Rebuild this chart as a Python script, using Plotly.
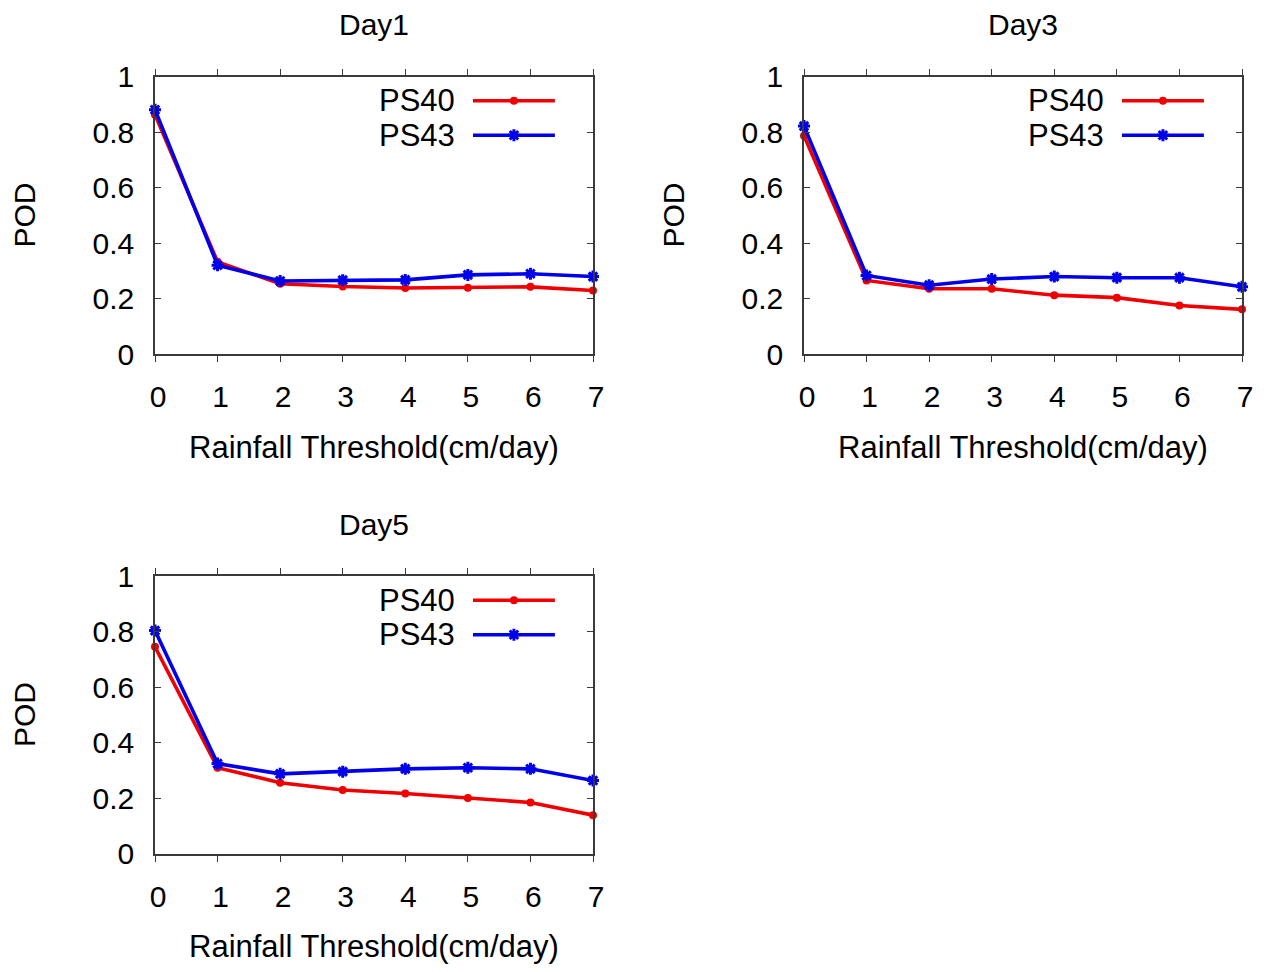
import plotly.graph_objects as go

# Rainfall thresholds (cm/day)
thresholds = [0, 1, 2, 3, 4, 5, 6, 7]

# Probability of detection for each forecast lead day
day1_ps40 = [0.863, 0.333, 0.254, 0.244, 0.239, 0.240, 0.243, 0.230]
day1_ps43 = [0.881, 0.321, 0.264, 0.267, 0.268, 0.286, 0.290, 0.280]
day3_ps40 = [0.787, 0.266, 0.236, 0.236, 0.213, 0.204, 0.176, 0.162]
day3_ps43 = [0.822, 0.284, 0.249, 0.271, 0.280, 0.276, 0.276, 0.243]
day5_ps40 = [0.746, 0.310, 0.256, 0.230, 0.217, 0.201, 0.185, 0.139]
day5_ps43 = [0.804, 0.325, 0.288, 0.296, 0.306, 0.310, 0.306, 0.264]

panel_titles = ["Day1", "Day3", "Day5"]
series_names = ["PS40", "PS43"]
y_ticks = [0, 0.2, 0.4, 0.6, 0.8, 1]

W, H = 1268, 972
FONT = "Liberation Sans, Arial, sans-serif"
RED = "rgb(240,0,0)"
BLUE = "rgb(0,0,235)"
AXIS = "#3a3a3a"

# pixel boxes of the three panels: (left, right, top, bottom)
boxes = [(155, 593, 76.7, 354.3), (804, 1242, 76.7, 354.3), (155, 593, 576.2, 853.8)]

panels = [(day1_ps40, day1_ps43), (day3_ps40, day3_ps43), (day5_ps40, day5_ps43)]
styles = [
    dict(color=RED, symbol="circle", size=5),
    dict(color=BLUE, symbol="asterisk-open", size=10),
]

fig = go.Figure()
annotations = []
shapes = []

for i, ((ps40, ps43), title, (l, r, t, b)) in enumerate(zip(panels, panel_titles, boxes)):
    n = "" if i == 0 else str(i + 1)
    xa, ya = "x" + n, "y" + n
    xdom = [l / W, r / W]
    ydom = [1 - b / H, 1 - t / H]

    for vals, name, st in zip((ps40, ps43), series_names, styles):
        fig.add_trace(go.Scatter(
            x=thresholds, y=vals, name=name, mode="lines+markers",
            xaxis=xa, yaxis=ya, showlegend=False, cliponaxis=False,
            line=dict(color=st["color"], width=3.6),
            marker=dict(symbol=st["symbol"], size=st["size"], color=st["color"],
                        line=dict(color=st["color"], width=3)),
        ))

    common = dict(showgrid=False, zeroline=False, showline=True, linecolor=AXIS,
                  linewidth=1.5, mirror="ticks", tickcolor=AXIS, ticklen=6, tickwidth=1.2,
                  automargin=False,
                  tickfont=dict(family=FONT, size=30, color="black"))
    fig.update_layout(**{
        ("xaxis" + n): dict(domain=xdom, anchor=ya, range=[0, 7], tickvals=thresholds,
                            ticks="outside", ticklabelstandoff=9, ticklabelshift=3,
                            **common),
        ("yaxis" + n): dict(domain=ydom, anchor=xa, range=[0, 1], tickvals=y_ticks,
                            ticks="inside", ticklabelstandoff=13, **common),
    })

    cx = (l + r) / 2
    annotations += [
        dict(text=title, x=cx / W, y=1 - (t - 52) / H, xref="paper", yref="paper",
             showarrow=False, xanchor="center", yanchor="middle",
             font=dict(family=FONT, size=30, color="black")),
        dict(text="Rainfall Threshold(cm/day)", x=cx / W, y=1 - (b + 93) / H,
             xref="paper", yref="paper", showarrow=False, xanchor="center",
             yanchor="middle", font=dict(family=FONT, size=31, color="black")),
        dict(text="POD", x=(l - 131) / W, y=1 - (t + b) / 2 / H, xref="paper",
             yref="paper", showarrow=False, textangle=-90, xanchor="center",
             yanchor="middle", font=dict(family=FONT, size=30, color="black")),
    ]

    # key block in the upper right of each panel (axis-domain fractions)
    for k, (name, st) in enumerate(zip(series_names, styles)):
        ky = 0.9135 - 0.1245 * k
        annotations.append(dict(text=name, x=0.689, y=ky, xref=xa + " domain",
                                yref=ya + " domain", showarrow=False, xanchor="right",
                                yanchor="middle",
                                font=dict(family=FONT, size=31, color="black")))
        shapes.append(dict(type="line", x0=0.726, x1=0.913, y0=ky, y1=ky,
                           xref=xa + " domain", yref=ya + " domain",
                           line=dict(color=st["color"], width=3.6)))
        fig.add_trace(go.Scatter(
            x=[0.8195 * 7], y=[ky], mode="markers", xaxis=xa, yaxis=ya,
            showlegend=False, hoverinfo="skip", cliponaxis=False,
            marker=dict(symbol=st["symbol"], size=st["size"], color=st["color"],
                        line=dict(color=st["color"], width=3)),
        ))

fig.update_layout(
    width=W, height=H, margin=dict(l=0, r=0, t=0, b=0, autoexpand=False),
    paper_bgcolor="white", plot_bgcolor="white",
    annotations=annotations, shapes=shapes, showlegend=False,
)

# drop the page's default body margin so the figure sits at the window origin
fig.write_html("out.html", post_script="document.body.style.margin='0';")
